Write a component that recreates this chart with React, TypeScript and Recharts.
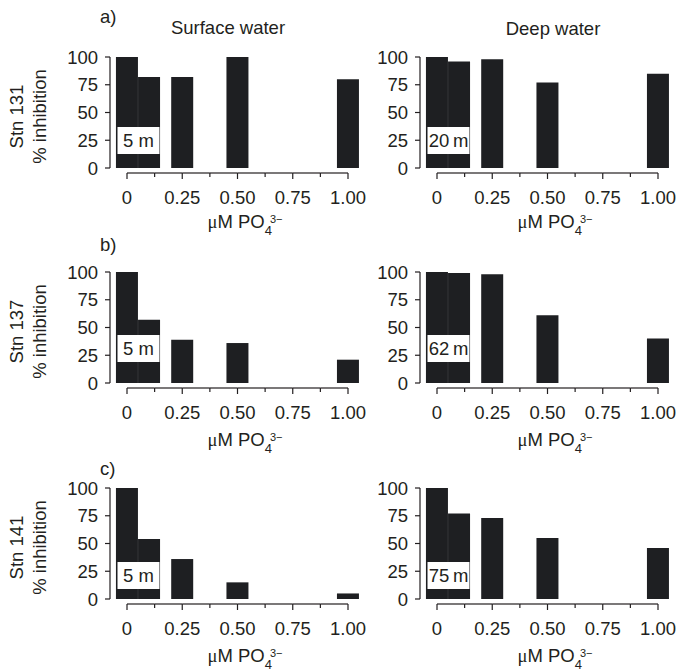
import { BarChart, Bar, XAxis, YAxis, ReferenceArea } from "recharts";

// PO4 additions (µM) and % inhibition
const PO4 = [0, 0.1, 0.25, 0.5, 1.0];
const STN131_SURFACE = [100, 82, 82, 100, 80];
const STN131_DEEP = [100, 96, 98, 77, 85];
const STN137_SURFACE = [100, 57, 39, 36, 21];
const STN137_DEEP = [100, 99, 98, 61, 40];
const STN141_SURFACE = [100, 54, 36, 15, 5];
const STN141_DEEP = [100, 77, 73, 55, 46];

const X_TICKS = [0, 0.125, 0.25, 0.375, 0.5, 0.625, 0.75, 0.875, 1];
const X_LABELS: Record<string, string> = { "0": "0", "0.25": "0.25", "0.5": "0.50", "0.75": "0.75", "1": "1.00" };
const Y_TICKS = [0, 25, 50, 75, 100];

const FONT = '"Liberation Sans", Arial, Helvetica, sans-serif';
const FS = 18.5;
const INK = "#231f20";
const BAR_FILL = "#1e1f22";

// layout
const Y_AXIS_W = 110;
const PAD_L = 17;
const PAD_R = 12;
const PX_PER_UNIT = 221;
const PLOT_W = PAD_L + PX_PER_UNIT + PAD_R;
const PLOT_H = 111;
const MARGIN_TOP = 20;
const MARGIN_RIGHT = 12;
const X_AXIS_H = 70;
const CHART_W = Y_AXIS_W + PLOT_W + MARGIN_RIGHT;
const CHART_H = MARGIN_TOP + PLOT_H + X_AXIS_H;
const COL_LEFT = [0, 310];
const AXIS_GAP = 5;
const STEP_PX = PX_PER_UNIT * 0.125;

const ROWS = [
  { letter: "a)", letterY: 23, stn: "Stn 131", plotTop: 57, titleY: 228, box: [12.6, 36.9], surface: STN131_SURFACE, deep: STN131_DEEP, depths: ["5 m", "20\u2009m"] },
  { letter: "b)", letterY: 251, stn: "Stn 137", plotTop: 272, titleY: 446, box: [19, 43.2], surface: STN137_SURFACE, deep: STN137_DEEP, depths: ["5 m", "62\u2009m"] },
  { letter: "c)", letterY: 475, stn: "Stn 141", plotTop: 488, titleY: 662, box: [9, 33.3], surface: STN141_SURFACE, deep: STN141_DEEP, depths: ["5 m", "75\u2009m"] },
];

function XTick(props: any) {
  const { x, y, payload, index } = props;
  const label = X_LABELS[String(payload.value)];
  const major = label !== undefined;
  const ly = y + AXIS_GAP;
  return (
    <g>
      {index < X_TICKS.length - 1 && (
        <line x1={x} x2={x + STEP_PX} y1={ly} y2={ly} stroke={INK} strokeWidth={1.2} />
      )}
      <line x1={x} x2={x} y1={ly} y2={ly + (major ? 6 : 4)} stroke={INK} strokeWidth={1.2} />
      {major && (
        <text x={x} y={ly + 31} textAnchor="middle" fill={INK} fontSize={FS} fontFamily={FONT}>
          {label}
        </text>
      )}
    </g>
  );
}

function Panel({ values, left, top, depth, box }: { values: number[]; left: number; top: number; depth: string; box: number[] }) {
  const data = PO4.map((x, i) => ({ x, v: values[i] }));
  return (
    <div style={{ position: "absolute", left, top: top - MARGIN_TOP }}>
      <BarChart
        width={CHART_W}
        height={CHART_H}
        data={data}
        margin={{ top: MARGIN_TOP, right: MARGIN_RIGHT, bottom: 0, left: 0 }}
        barCategoryGap={0}
        barGap={0}
      >
        <XAxis
          dataKey="x"
          type="number"
          domain={[0, 1]}
          ticks={X_TICKS}
          interval={0}
          padding={{ left: PAD_L, right: PAD_R }}
          height={X_AXIS_H}
          axisLine={false}
          tickLine={false}
          tickSize={0}
          tickMargin={0}
          tick={<XTick />}
        />
        <YAxis
          type="number"
          domain={[0, 100]}
          ticks={Y_TICKS}
          interval={0}
          width={Y_AXIS_W}
          tickSize={5}
          tickMargin={7}
          axisLine={{ stroke: INK, strokeWidth: 1.2 }}
          tickLine={{ stroke: INK, strokeWidth: 1.2 }}
          tick={{ fill: INK, fontSize: FS, fontFamily: FONT }}
        />
        <Bar dataKey="v" fill={BAR_FILL} barSize={22} isAnimationActive={false} />
        <ReferenceArea
          x1={-0.043}
          x2={0.147}
          y1={box[0]}
          y2={box[1]}
          fill="#ffffff"
          fillOpacity={1}
          stroke="none"
          ifOverflow="visible"
          zIndex={900}
          label={{ value: depth, position: "center", fill: INK, fontSize: FS, fontFamily: FONT }}
        />
      </BarChart>
    </div>
  );
}

function XTitle({ x, y }: { x: number; y: number }) {
  return (
    <text x={x} y={y} fill={INK} fontSize={FS} fontFamily={FONT}>
      <tspan fontFamily='"Liberation Serif", serif'>μ</tspan>M PO
      <tspan fontSize={13} dy={7}>4</tspan>
      <tspan fontSize={11} dx={-2} dy={-12}>3−</tspan>
    </text>
  );
}

export default function App() {
  return (
    <div style={{ position: "absolute", left: 0, top: 0, width: 683, height: 671, background: "#fff" }}>
      {ROWS.map((r) => (
        <div key={r.letter}>
          <Panel values={r.surface} left={COL_LEFT[0]} top={r.plotTop} depth={r.depths[0]} box={r.box} />
          <Panel values={r.deep} left={COL_LEFT[1]} top={r.plotTop} depth={r.depths[1]} box={r.box} />
        </div>
      ))}
      <svg width={683} height={671} style={{ position: "absolute", left: 0, top: 0, pointerEvents: "none" }}>
        <text x={228} y={33.5} textAnchor="middle" fill={INK} fontSize={FS} fontFamily={FONT}>Surface water</text>
        <text x={553} y={35} textAnchor="middle" fill={INK} fontSize={FS} fontFamily={FONT}>Deep water</text>
        {ROWS.map((r) => {
          const cy = r.plotTop + PLOT_H / 2 + 4;
          return (
            <g key={r.letter}>
              <text x={100} y={r.letterY} fill={INK} fontSize={FS} fontFamily={FONT}>{r.letter}</text>
              <text x={16} y={cy} transform={`rotate(-90 16 ${cy})`} textAnchor="middle" dominantBaseline="central" fill={INK} fontSize={FS} fontFamily={FONT}>{r.stn}</text>
              <text x={39} y={cy} transform={`rotate(-90 39 ${cy})`} textAnchor="middle" dominantBaseline="central" fill={INK} fontSize={FS} fontFamily={FONT}>% inhibition</text>
              {COL_LEFT.map((cl) => (
                <XTitle key={cl} x={cl + Y_AXIS_W + PAD_L + PX_PER_UNIT * 0.5 - 30} y={r.titleY} />
              ))}
            </g>
          );
        })}
      </svg>
    </div>
  );
}
